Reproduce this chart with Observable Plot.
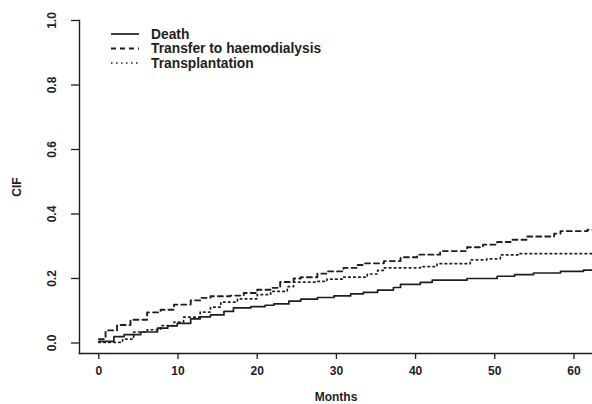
<!DOCTYPE html>
<html>
<head>
<meta charset="utf-8">
<script src="https://cdn.jsdelivr.net/npm/d3@7"></script>
<script src="https://cdn.jsdelivr.net/npm/@observablehq/plot@0.6"></script>
<style>
  html, body { margin: 0; padding: 0; background: #fff; }
  #chart { width: 592px; height: 404px; overflow: hidden; }
</style>
</head>
<body>
<div id="chart"></div>
<script>
// ---- data ----
const seriesNames = ["Death", "Transfer to haemodialysis", "Transplantation"];

const deathTime = [0, 1.9, 3.2, 5.3, 7.4, 8.7, 9.9, 11.6, 12.8, 14.1, 15.8, 17, 19.2, 21, 22.1, 24, 25.5, 27.6, 29.7, 31.8, 33.4, 35.2, 37.2, 38.1, 40.6, 42.1, 46.5, 50.3, 52.5, 54.9, 58.3, 61.2, 62.5];
const deathCIF  = [0.005, 0.02, 0.026, 0.034, 0.046, 0.053, 0.061, 0.075, 0.081, 0.087, 0.098, 0.109, 0.113, 0.117, 0.121, 0.13, 0.136, 0.141, 0.146, 0.152, 0.157, 0.164, 0.172, 0.182, 0.188, 0.195, 0.2, 0.207, 0.212, 0.217, 0.222, 0.226, 0.226];

const hdTime = [0, 0.85, 2.3, 4, 6.1, 7.8, 9.5, 11.6, 12.8, 14.1, 16.6, 18.3, 20, 21.7, 22.9, 24.6, 25.5, 27.6, 28.8, 30.9, 32.6, 33.5, 36, 38.1, 40.2, 43.1, 46.5, 48.5, 50.3, 52, 54.1, 57.5, 58.3, 61.7, 62.5];
const hdCIF  = [0.012, 0.039, 0.056, 0.072, 0.095, 0.103, 0.119, 0.132, 0.14, 0.145, 0.147, 0.155, 0.165, 0.171, 0.189, 0.2, 0.204, 0.215, 0.222, 0.233, 0.242, 0.247, 0.254, 0.266, 0.274, 0.285, 0.297, 0.305, 0.313, 0.32, 0.33, 0.339, 0.347, 0.351, 0.351];

const txTime = [0, 3, 4.4, 6.1, 7.8, 9.5, 10.7, 12.8, 14.1, 15.4, 17.5, 20, 21.7, 23.8, 24.6, 27.6, 28.8, 30.9, 33.9, 35.2, 36, 40.6, 42.7, 46.9, 49, 50.7, 53.2, 62.5];
const txCIF  = [0.002, 0.012, 0.034, 0.041, 0.054, 0.065, 0.08, 0.096, 0.111, 0.127, 0.137, 0.15, 0.16, 0.175, 0.189, 0.191, 0.198, 0.204, 0.214, 0.225, 0.233, 0.237, 0.246, 0.258, 0.261, 0.273, 0.277, 0.277];

const xTicks = [0, 10, 20, 30, 40, 50, 60];
const yTicks = [0, 0.2, 0.4, 0.6, 0.8, 1.0];
const xLabel = "Months";
const yLabel = "CIF";

// ---- build tables ----
const toRows = (t, v) => t.map((d, i) => ({time: d, cif: v[i]}));
const death = toRows(deathTime, deathCIF);
const hd = toRows(hdTime, hdCIF);
const tx = toRows(txTime, txCIF);

const ink = "#1e1e1e";
const dashes = [null, "5,4", "1.5,3.5"];

const chart = Plot.plot({
  width: 592,
  height: 404,
  marginLeft: 79,
  marginRight: 0,
  marginTop: 20,
  marginBottom: 51,
  x: {domain: [-2.44, 62.34]},
  y: {domain: [-0.0326, 1.0]},
  style: {
    fontFamily: "'Liberation Sans', Arial, sans-serif",
    fontWeight: "bold",
    fontSize: "12px",
    color: ink,
    background: "#fff"
  },
  marks: [
    Plot.frame({anchor: "left", stroke: ink, strokeWidth: 1.4}),
    Plot.frame({anchor: "bottom", stroke: ink, strokeWidth: 1.4}),
    Plot.axisY({ticks: yTicks, tickSize: 8, tickFormat: () => "", label: null, strokeWidth: 1.3}),
    Plot.text(yTicks, {y: d => d, text: d => d.toFixed(1), frameAnchor: "left", dx: -27, rotate: -90,
      textAnchor: "middle", lineAnchor: "middle", fontSize: 12, fontWeight: "bold", fill: ink}),
    Plot.axisX({ticks: xTicks, tickSize: 6, tickPadding: 7, label: null, fontSize: 12, strokeWidth: 1.3}),
    Plot.text([xLabel], {text: d => d, frameAnchor: "bottom", dy: 44, lineAnchor: "middle",
      fontSize: 12, fontWeight: "bold", fill: ink}),
    Plot.text([yLabel], {text: d => d, frameAnchor: "left", dx: -62, rotate: -90,
      textAnchor: "middle", lineAnchor: "middle", fontSize: 12, fontWeight: "bold", fill: ink}),
    Plot.line(death, {x: "time", y: "cif", curve: "step-after", stroke: ink, strokeWidth: 1.7, clip: true}),
    Plot.line(hd, {x: "time", y: "cif", curve: "step-after", stroke: ink, strokeWidth: 1.9, strokeDasharray: dashes[1], clip: true}),
    Plot.line(tx, {x: "time", y: "cif", curve: "step-after", stroke: ink, strokeWidth: 1.7, strokeDasharray: dashes[2], clip: true})
  ]
});

// ---- legend inside the plot area (top-left) ----
const svg = d3.select(chart);
const lg = svg.append("g").attr("font-family", "'Liberation Sans', Arial, sans-serif")
  .attr("font-weight", "bold").attr("font-size", 13.8).attr("fill", ink)
  .attr("text-anchor", "start");
seriesNames.forEach((name, i) => {
  const yy = 34 + i * 14.5;
  lg.append("line").attr("x1", 111).attr("x2", 139).attr("y1", yy).attr("y2", yy)
    .attr("stroke", ink).attr("stroke-width", i === 1 ? 1.9 : 1.7)
    .attr("stroke-dasharray", dashes[i]);
  lg.append("text").attr("x", 151).attr("y", yy).attr("dy", "0.35em")
    .attr("text-anchor", "start").text(name);
});

document.getElementById("chart").appendChild(chart);
</script>
</body>
</html>
